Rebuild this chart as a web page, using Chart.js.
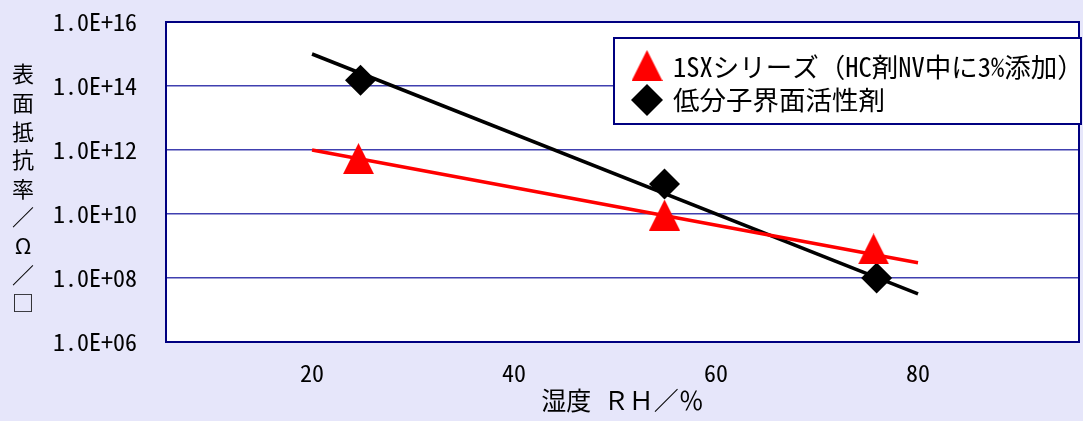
<!DOCTYPE html>
<html><head><meta charset="utf-8">
<script src="https://cdn.jsdelivr.net/npm/chart.js@4.4.1/dist/chart.umd.min.js"></script>
<style>html,body{margin:0;padding:0;background:#E6E6FA;} canvas{display:block}</style>
</head><body>
<canvas id="c" width="1083" height="421"></canvas>
<script>
// ---- data ----
const seriesNames = ['1SXシリーズ（HC剤NV中に3%添加）', '低分子界面活性剤'];
const sxX = [24.6, 54.9, 75.6];
const sxY = [5.4e11, 9.3e9, 8.1e8];
const surfX = [24.8, 54.9, 75.9];
const surfY = [1.5e14, 8.7e10, 1.0e8];
const trendX = [20, 80];
const sxTrendY = [1.0e12, 3.0e8];
const surfTrendY = [1.0e15, 3.2e7];
const xTicks = [20, 40, 60, 80];
const yTicks = [1e6, 1e8, 1e10, 1e12, 1e14, 1e16];
const yTickLabels = ['1.0E+06', '1.0E+08', '1.0E+10', '1.0E+12', '1.0E+14', '1.0E+16'];
const xTitle = '湿度 ＲＨ／％';
const yTitle = '表面抵抗率／Ω／□';

const FONT = "'Noto Sans Mono CJK JP', 'Noto Sans CJK JP', sans-serif";

// triangle marker
function makeTriangle(size, color) {
  const c = document.createElement('canvas');
  c.width = size; c.height = size;
  const g = c.getContext('2d');
  g.fillStyle = color;
  g.beginPath();
  g.moveTo(size / 2, 0);
  g.lineTo(size, size);
  g.lineTo(0, size);
  g.closePath();
  g.fill();
  return c;
}
const tri = makeTriangle(31, '#FF0000');

const pts = (xs, ys) => xs.map((x, i) => ({x: x, y: ys[i]}));
const noPad = (s) => { s.paddingTop = 0; s.paddingBottom = 0; s.paddingLeft = 0; s.paddingRight = 0; };

const framePlugin = {
  id: 'frame',
  beforeDraw(chart) {
    const {ctx, chartArea: a} = chart;
    ctx.save();
    ctx.fillStyle = '#E6E6FA';
    ctx.fillRect(0, 0, chart.width, chart.height);
    ctx.fillStyle = '#FFFFFF';
    ctx.fillRect(a.left, a.top, a.right - a.left, a.bottom - a.top);
    ctx.restore();
  },
  afterDraw(chart) {
    const {ctx, chartArea: a} = chart;
    ctx.save();
    ctx.strokeStyle = '#000080';
    ctx.lineWidth = 2;
    ctx.strokeRect(a.left, a.top, a.right - a.left, a.bottom - a.top);
    // legend
    const lx = 614, ly = 38, lw = 467, lh = 86;
    ctx.fillStyle = '#FFFFFF';
    ctx.fillRect(lx, ly, lw, lh);
    ctx.strokeRect(lx, ly, lw, lh);
    ctx.drawImage(tri, 647 - 15.5, 65.5 - 15.5);
    ctx.fillStyle = '#000000';
    ctx.beginPath();
    ctx.moveTo(647, 84); ctx.lineTo(663, 100); ctx.lineTo(647, 116); ctx.lineTo(631, 100); ctx.closePath();
    ctx.fill();
    ctx.font = '26.5px ' + FONT;
    ctx.textAlign = 'left';
    ctx.textBaseline = 'middle';
    ctx.fillText(seriesNames[0], 673, 67);
    ctx.fillText(seriesNames[1], 673, 100);
    // y title (vertical stacked)
    ctx.font = '22px ' + FONT;
    ctx.textAlign = 'center';
    const chars = Array.from(yTitle);
    chars.forEach((ch, i) => ctx.fillText(ch, 23, 74 + i * 28.6));
    ctx.restore();
  }
};

new Chart(document.getElementById('c'), {
  type: 'scatter',
  data: {
    datasets: [
      {label: seriesNames[0], data: pts(sxX, sxY), pointStyle: tri, pointRadius: 15.5, showLine: false, order: 0},
      {label: seriesNames[1], data: pts(surfX, surfY), pointStyle: 'rectRot', pointRadius: 15.5, backgroundColor: '#000000', borderWidth: 0, showLine: false, order: 1},
      {label: 'trend1', data: pts(trendX, sxTrendY), showLine: true, borderColor: '#FF0000', borderWidth: 3.5, pointRadius: 0, order: 2},
      {label: 'trend2', data: pts(trendX, surfTrendY), showLine: true, borderColor: '#000000', borderWidth: 3.5, pointRadius: 0, order: 3}
    ]
  },
  options: {
    responsive: false,
    animation: false,
    devicePixelRatio: 1,
    layout: {autoPadding: false, padding: {left: 0, top: 22, right: 4, bottom: 0}},
    plugins: {legend: {display: false}, tooltip: {enabled: false}, title: {display: false}},
    scales: {
      x: {
        type: 'linear', min: 5.54, max: 95.94,
        afterBuildTicks: (s) => { s.ticks = xTicks.map(v => ({value: v})); },
        afterFit: (s) => { s.height = 79; noPad(s); },
        grid: {display: false, drawTicks: false},
        border: {display: false},
        ticks: {padding: 16, color: '#000', font: {family: FONT, size: 24}, maxRotation: 0},
        title: {display: true, text: xTitle, color: '#000', font: {family: FONT, size: 25}, padding: {top: 0, bottom: 6}}
      },
      y: {
        type: 'logarithmic', min: 1e6, max: 1e16, z: 1,
        afterBuildTicks: (s) => { s.ticks = yTicks.map(v => ({value: v})); },
        afterFit: (s) => { s.width = 166; noPad(s); },
        grid: {color: '#4040B0', lineWidth: 1.6, drawTicks: false},
        border: {display: false},
        ticks: {padding: 29, color: '#000', font: {family: FONT, size: 24},
          callback: (v, i) => yTickLabels[yTicks.indexOf(v)] ?? yTickLabels[i]}
      }
    }
  },
  plugins: [framePlugin]
});
</script>
</body></html>
